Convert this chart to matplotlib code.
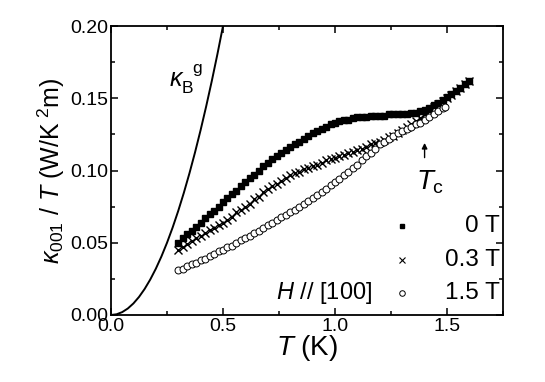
import numpy as np
import matplotlib
matplotlib.use("Agg")
import matplotlib.pyplot as plt

plt.rcParams['font.family'] = ['Liberation Sans', 'DejaVu Sans']
plt.rcParams['mathtext.fontset'] = 'custom'
plt.rcParams['mathtext.rm'] = 'Liberation Sans'
plt.rcParams['mathtext.it'] = 'Liberation Sans:italic'
plt.rcParams['mathtext.bf'] = 'Liberation Sans:bold'

# данные (шаг по T 0.02 K)
T_0 = [0.30, 0.32, 0.34, 0.36, 0.38, 0.40, 0.42, 0.44, 0.46, 0.48,
       0.50, 0.52, 0.54, 0.56, 0.58, 0.60, 0.62, 0.64, 0.66, 0.68,
       0.70, 0.72, 0.74, 0.76, 0.78, 0.80, 0.82, 0.84, 0.86, 0.88,
       0.90, 0.92, 0.94, 0.96, 0.98, 1.00, 1.02, 1.04, 1.06, 1.08,
       1.10, 1.12, 1.14, 1.16, 1.18, 1.20, 1.22, 1.24, 1.26, 1.28,
       1.30, 1.32, 1.34, 1.36, 1.38, 1.40, 1.42, 1.44, 1.46, 1.48,
       1.50, 1.52, 1.54, 1.56, 1.58, 1.60]

# 0 T
k_0 = [0.050, 0.053, 0.056, 0.058, 0.061, 0.064, 0.067, 0.070, 0.072, 0.075,
       0.078, 0.081, 0.084, 0.086, 0.089, 0.092, 0.095, 0.097, 0.100, 0.103,
       0.105, 0.108, 0.110, 0.112, 0.114, 0.116, 0.118, 0.120, 0.122, 0.124,
       0.126, 0.127, 0.129, 0.130, 0.132, 0.133, 0.134, 0.135, 0.135, 0.136,
       0.137, 0.137, 0.137, 0.138, 0.138, 0.138, 0.138, 0.139, 0.139, 0.139,
       0.139, 0.139, 0.140, 0.140, 0.141, 0.142, 0.143, 0.145, 0.147, 0.149,
       0.151, 0.153, 0.155, 0.157, 0.160, 0.162]

# 0.3 T
T_03 = T_0
k_03 = [0.045, 0.047, 0.049, 0.051, 0.053, 0.055, 0.057, 0.059, 0.060, 0.062,
        0.064, 0.066, 0.068, 0.071, 0.073, 0.075, 0.077, 0.080, 0.082, 0.085,
        0.087, 0.089, 0.091, 0.093, 0.095, 0.097, 0.098, 0.099, 0.101, 0.102,
        0.103, 0.104, 0.105, 0.107, 0.108, 0.109, 0.110, 0.111, 0.112, 0.113,
        0.114, 0.115, 0.116, 0.118, 0.119, 0.120, 0.121, 0.123, 0.124, 0.126,
        0.128, 0.130, 0.132, 0.134, 0.136, 0.139, 0.141, 0.144, 0.146, 0.148,
        0.150, 0.152, 0.155, 0.157, 0.160, 0.162]

# 1.5 T
T_15 = [0.30, 0.32, 0.34, 0.36, 0.38, 0.40, 0.42, 0.44, 0.46, 0.48,
        0.50, 0.52, 0.54, 0.56, 0.58, 0.60, 0.62, 0.64, 0.66, 0.68,
        0.70, 0.72, 0.74, 0.76, 0.78, 0.80, 0.82, 0.84, 0.86, 0.88,
        0.90, 0.92, 0.94, 0.96, 0.98, 1.00, 1.02, 1.04, 1.06, 1.08,
        1.10, 1.12, 1.14, 1.16, 1.18, 1.20, 1.22, 1.24, 1.26, 1.28,
        1.30, 1.32, 1.34, 1.36, 1.38, 1.40, 1.42, 1.44, 1.46, 1.48, 1.49]
k_15 = [0.031, 0.032, 0.034, 0.035, 0.036, 0.038, 0.039, 0.041, 0.042, 0.044,
        0.045, 0.047, 0.048, 0.050, 0.052, 0.053, 0.055, 0.057, 0.058, 0.060,
        0.062, 0.064, 0.066, 0.068, 0.069, 0.071, 0.073, 0.075, 0.077, 0.079,
        0.081, 0.083, 0.085, 0.087, 0.090, 0.092, 0.094, 0.097, 0.099, 0.102,
        0.104, 0.107, 0.110, 0.112, 0.115, 0.118, 0.120, 0.122, 0.124, 0.126,
        0.127, 0.129, 0.130, 0.132, 0.133, 0.135, 0.137, 0.139, 0.141, 0.143, 0.144]

# кривая kappa_B^g
T_B = [0.0, 0.025, 0.05, 0.075, 0.10, 0.125, 0.15, 0.175, 0.20, 0.225, 0.25,
       0.275, 0.30, 0.325, 0.35, 0.375, 0.40, 0.425, 0.45, 0.475, 0.50]
k_B = [0.0, 0.0005, 0.002, 0.0045, 0.008, 0.0125, 0.018, 0.0245, 0.032, 0.0405,
       0.050, 0.0605, 0.072, 0.0845, 0.098, 0.1125, 0.128, 0.1445, 0.162,
       0.1805, 0.200]

fig = plt.figure(figsize=(5.45, 3.82), dpi=100)
ax = fig.add_axes([0.2037, 0.1754, 0.7192, 0.7565])

ax.plot(T_B, k_B, color='black', lw=1.4)
ax.plot(T_0, k_0, ls='none', marker='s', ms=5, color='black')
ax.plot(T_03, k_03, ls='none', marker='x', ms=5.5, mew=1.0, color='black')
ax.plot(T_15, k_15, ls='none', marker='o', ms=5, mew=0.7,
        mfc='white', mec='black')

ax.set_xlim(0, 1.75)
ax.set_ylim(0, 0.20)
ax.set_xticks([0.0, 0.5, 1.0, 1.5])
ax.set_xticks(np.arange(0, 1.76, 0.25), minor=True)
ax.set_yticks([0.00, 0.05, 0.10, 0.15, 0.20])
ax.set_yticks(np.arange(0, 0.201, 0.025), minor=True)
ax.set_xticklabels(['0.0', '0.5', '1.0', '1.5'])
ax.set_yticklabels(['0.00', '0.05', '0.10', '0.15', '0.20'])
ax.tick_params(which='both', direction='in', top=True, right=True,
               labelsize=14, width=1.1)
ax.tick_params(which='major', length=5, pad=2)
ax.tick_params(which='minor', length=3)
for s in ax.spines.values():
    s.set_linewidth(1.3)

ax.set_xlabel(r'$T$ (K)', fontsize=20, labelpad=-1)
ax.set_ylabel(r'$\kappa_{001}$ / $T$ (W/K$^{\ 2}$m)', fontsize=18, labelpad=2)

# подписи
ax.text(0.26, 0.158, r'$\kappa_{\rm B}^{\ \ \rm g}$', fontsize=18)
ax.annotate('', xy=(1.40, 0.121), xytext=(1.40, 0.107),
            arrowprops=dict(arrowstyle='-|>', color='black', lw=1.0,
                            mutation_scale=8))
ax.text(1.362, 0.087, r'$T_{\rm c}$', fontsize=20)
ax.text(1.165, 0.015, r'$H$ // [100]', fontsize=17, ha='right', va='center')

# легенда вручную
leg_y = [0.0615, 0.038, 0.015]
leg_lbl = ['0 T', '0.3 T', '1.5 T']
ax.plot([1.30], [leg_y[0]], ls='none', marker='s', ms=3.5, color='black')
ax.plot([1.30], [leg_y[1]], ls='none', marker='x', ms=4, mew=0.8, color='black')
ax.plot([1.30], [leg_y[2]], ls='none', marker='o', ms=4, mew=0.7,
        mfc='white', mec='black')
for y, t in zip(leg_y, leg_lbl):
    ax.text(1.735, y, t, fontsize=17.5, ha='right', va='center')

fig.savefig('out.png', dpi=100)
